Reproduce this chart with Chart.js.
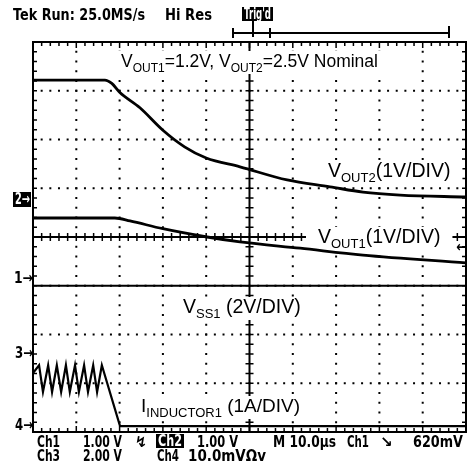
<!DOCTYPE html>
<html lang="en">
<head>
<meta charset="UTF-8">
<title>Tek scope capture</title>
<script src="https://cdn.jsdelivr.net/npm/chart.js@4.4.1/dist/chart.umd.min.js"></script>
<style>
  body { margin: 0; background: #fff; }
  canvas { display: block; }
</style>
</head>
<body>
<canvas id="scope" width="467" height="468"></canvas>
<script>
// screen is 10 x 8 divisions; x = divisions from left, y = divisions from bottom
const vout2X = [0, 1.66, 1.82, 2.0, 2.47, 3.0, 3.5, 4.0, 4.78, 5.87, 6.86, 7.62, 8.48, 10];
const vout2Y = [7.22, 7.22, 7.15, 6.97, 6.65, 6.19, 5.85, 5.62, 5.44, 5.17, 5.03, 4.92, 4.86, 4.82];

const vout1X = [0, 1.89, 2.24, 3.0, 4.02, 4.78, 6.17, 7.62, 10];
const vout1Y = [4.39, 4.39, 4.33, 4.17, 4.0, 3.90, 3.77, 3.63, 3.47];

const vss1X = [0, 10];
const vss1Y = [3.0, 3.0];

const indX = [0, 0.14, 0.23, 0.35, 0.44, 0.55, 0.65, 0.76, 0.85, 0.97, 1.06, 1.18, 1.27, 1.39, 1.48, 1.59, 2.01, 10];
const indY = [1.21, 1.37, 0.82, 1.37, 0.82, 1.37, 0.82, 1.37, 0.82, 1.37, 0.82, 1.37, 0.82, 1.37, 0.82, 1.37, 0.12, 0.12];

const pts = (xs, ys) => xs.map((x, i) => ({x: x, y: ys[i]}));

const tekFont = 'bold 15px "DejaVu Sans", sans-serif';

// trace labels: [text, subscript?]
const labels = [
  {x: 121, y: 67, size: 17.5, parts: [['V'], ['OUT1', 1], ['=1.2V, V'], ['OUT2', 1], ['=2.5V Nominal']]},
  {x: 328, y: 177, size: 19.5, parts: [['V'], ['OUT2', 1], ['(1V/DIV)']]},
  {x: 318, y: 243, size: 19.5, parts: [['V'], ['OUT1', 1], ['(1V/DIV)']]},
  {x: 183, y: 313, size: 19.5, parts: [['V'], ['SS1', 1], [' (2V/DIV)']]},
  {x: 141, y: 412, size: 19, parts: [['I'], ['INDUCTOR1', 1], [' (1A/DIV)']]}
];

function drawRich(ctx, l) {
  const big = l.size + 'px "Liberation Sans", Arial, sans-serif';
  const small = Math.round(l.size * 0.66) + 'px "Liberation Sans", Arial, sans-serif';
  let w = 0;
  l.parts.forEach(p => { ctx.font = p[1] ? small : big; w += ctx.measureText(p[0]).width; });
  ctx.fillStyle = '#fff';
  ctx.fillRect(l.x - 12, l.y - 16, w + 24, 23);
  ctx.fillStyle = '#000';
  let cx = l.x;
  l.parts.forEach(p => {
    ctx.font = p[1] ? small : big;
    ctx.fillText(p[0], cx, p[1] ? l.y + 5 : l.y);
    cx += ctx.measureText(p[0]).width;
  });
}

// squeeze bold text into the width seen on the scope readout
function tek(ctx, str, x1, x2, base, color) {
  ctx.font = tekFont;
  ctx.fillStyle = color || '#000';
  ctx.fillText(str, x1, base, x2 - x1);
}

const scopeGrid = {
  id: 'scopeGrid',
  beforeDatasetsDraw(chart) {
    const {ctx, chartArea: a, scales: {x, y}} = chart;
    ctx.save();
    ctx.fillStyle = '#000';
    for (let i = 1; i < 10; i++) {
      if (i === 5) continue;
      const px = x.getPixelForValue(i);
      for (let j = 0; j <= 40; j++) ctx.fillRect(px - 1, y.getPixelForValue(j / 5) - 1, 2, 2);
    }
    for (let j = 1; j < 8; j++) {
      if (j === 4) continue;
      const py = y.getPixelForValue(j);
      for (let i = 0; i <= 50; i++) ctx.fillRect(x.getPixelForValue(i / 5) - 1, py - 1, 2, 2);
    }
    const cx = x.getPixelForValue(5), cy = y.getPixelForValue(4);
    ctx.strokeStyle = '#000';
    ctx.lineWidth = 2;
    ctx.strokeRect(a.left, a.top, a.right - a.left, a.bottom - a.top);
    ctx.beginPath();
    ctx.moveTo(cx, a.top); ctx.lineTo(cx, a.bottom);
    ctx.moveTo(a.left, cy); ctx.lineTo(a.right, cy);
    ctx.stroke();
    ctx.lineWidth = 1.5;
    ctx.beginPath();
    const len = 4;
    for (let i = 1; i < 50; i++) {
      const px = x.getPixelForValue(i / 5);
      const l2 = i % 5 === 0 ? 6 : len;
      ctx.moveTo(px, a.top); ctx.lineTo(px, a.top + l2);
      ctx.moveTo(px, a.bottom); ctx.lineTo(px, a.bottom - l2);
      ctx.moveTo(px, cy - len); ctx.lineTo(px, cy + len);
    }
    for (let j = 1; j < 40; j++) {
      const py = y.getPixelForValue(j / 5);
      ctx.moveTo(a.left, py); ctx.lineTo(a.left + len, py);
      ctx.moveTo(a.right, py); ctx.lineTo(a.right - len, py);
      ctx.moveTo(cx - len, py); ctx.lineTo(cx + len, py);
    }
    ctx.stroke();
    labels.forEach(l => drawRich(ctx, l));
    ctx.restore();
  },
  afterDraw(chart) {
    const {ctx} = chart;
    ctx.save();
    // header
    tek(ctx, 'Tek Run: 25.0MS/s', 13, 145, 20);
    tek(ctx, 'Hi Res', 165, 212, 20);
    ctx.fillRect(242, 7, 31, 14);
    tek(ctx, "Trig'd", 244, 271, 19, '#fff');
    ctx.strokeStyle = '#000';
    ctx.lineWidth = 2;
    ctx.beginPath();
    ctx.moveTo(233, 33); ctx.lineTo(449, 33);
    ctx.moveTo(233, 28); ctx.lineTo(233, 38);
    ctx.moveTo(270, 28); ctx.lineTo(270, 38);
    ctx.moveTo(449, 26); ctx.lineTo(449, 38);
    ctx.moveTo(253, 21); ctx.lineTo(253, 37);
    ctx.stroke();
    // channel ground markers
    tek(ctx, '1\u2192', 14, 33, 283);
    tek(ctx, '3\u2192', 15, 33, 358);
    tek(ctx, '4\u2192', 15, 33, 430);
    ctx.fillStyle = '#000';
    ctx.fillRect(13, 192, 18, 15);
    tek(ctx, '2\u2192', 15, 30, 204, '#fff');
    // trigger level marker
    tek(ctx, '\u2190', 456, 467, 252);
    // readout
    tek(ctx, 'Ch1', 37, 60, 447);
    tek(ctx, '1.00 V', 83, 122, 447);
    tek(ctx, '\u21AF', 135, 147, 447);
    ctx.fillStyle = '#000';
    ctx.fillRect(156, 434, 28, 14);
    tek(ctx, 'Ch2', 158, 182, 446, '#fff');
    tek(ctx, '1.00 V', 197, 238, 447);
    tek(ctx, 'M 10.0\u00B5s', 273, 336, 447);
    tek(ctx, 'Ch1', 347, 369, 447);
    tek(ctx, '\u2198', 380, 393, 447);
    tek(ctx, '620mV', 413, 463, 447);
    tek(ctx, 'Ch3', 37, 60, 461);
    tek(ctx, '2.00 V', 83, 122, 461);
    tek(ctx, 'Ch4', 157, 179, 461);
    tek(ctx, '10.0mV\u03A9v', 188, 266, 461);
    ctx.restore();
  }
};

const ctx = document.getElementById('scope').getContext('2d');
const scope = new Chart(ctx, {
  type: 'line',
  data: {
    datasets: [
      {label: 'VOUT2', data: pts(vout2X, vout2Y), cubicInterpolationMode: 'monotone'},
      {label: 'VOUT1', data: pts(vout1X, vout1Y), cubicInterpolationMode: 'monotone'},
      {label: 'VSS1', data: pts(vss1X, vss1Y), borderWidth: 2},
      {label: 'IINDUCTOR1', data: pts(indX, indY), borderWidth: 2.2}
    ]
  },
  options: {
    responsive: false,
    animation: false,
    devicePixelRatio: 1,
    layout: {padding: {left: 33, right: 1, top: 42, bottom: 36}},
    plugins: {legend: {display: false}, tooltip: {enabled: false}},
    scales: {
      x: {type: 'linear', min: 0, max: 10, display: false},
      y: {type: 'linear', min: 0, max: 8, display: false}
    },
    elements: {
      point: {radius: 0},
      line: {borderColor: '#000', borderWidth: 2.8, tension: 0}
    }
  },
  plugins: [scopeGrid]
});
</script>
</body>
</html>
